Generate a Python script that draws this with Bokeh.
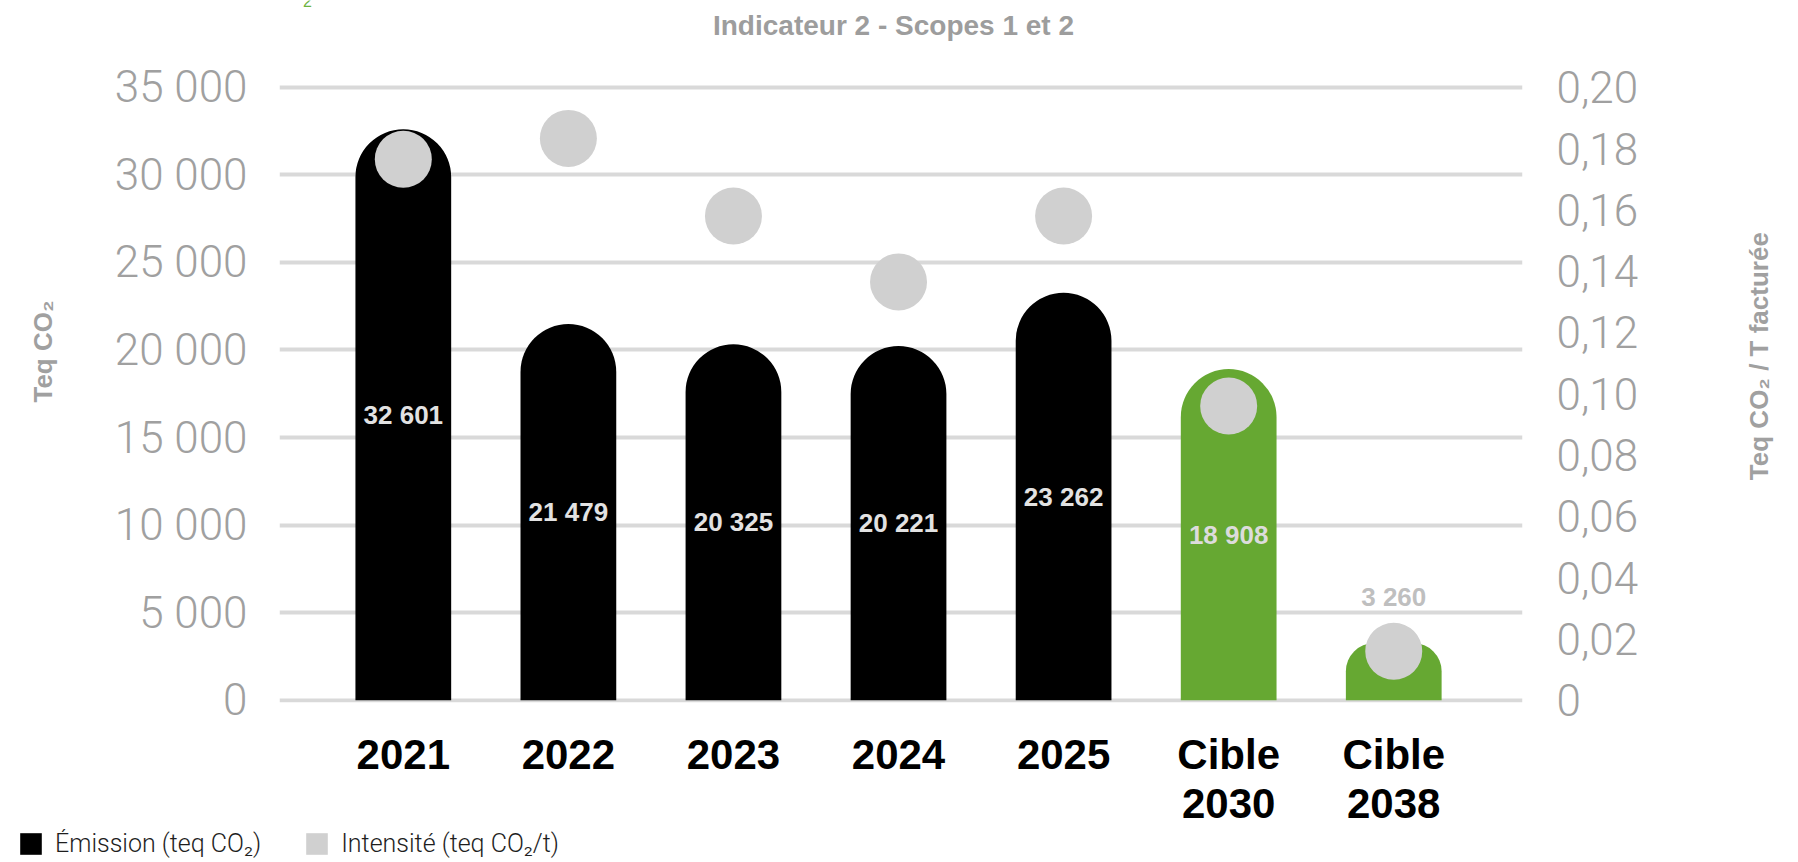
import math
from bokeh.plotting import figure
from bokeh.layouts import row
from bokeh.models import (Range1d, LinearAxis, FixedTicker, ColumnDataSource,
                          Legend, LegendItem, Label, CDSView, IndexFilter)
from bokeh.core.properties import value
from bokeh.embed import file_html
from bokeh.resources import INLINE

# ---------------- data ----------------
categories = ["2021", "2022", "2023", "2024", "2025", "Cible\n2030", "Cible\n2038"]
emissions = [32601, 21479, 20325, 20221, 23262, 18908, 3260]
emission_labels = ["32 601", "21 479", "20 325", "20 221", "23 262", "18 908", "3 260"]
intensity = [0.1765, 0.1833, 0.158, 0.1365, 0.158, 0.096, 0.016]
is_target = [False, False, False, False, False, True, True]

emission_ticks = [0, 5000, 10000, 15000, 20000, 25000, 30000, 35000]
emission_tick_labels = ["0", "5 000", "10 000", "15 000", "20 000", "25 000", "30 000", "35 000"]
intensity_ticks = [0, 0.02, 0.04, 0.06, 0.08, 0.10, 0.12, 0.14, 0.16, 0.18, 0.20]
intensity_tick_labels = ["0", "0,02", "0,04", "0,06", "0,08", "0,10", "0,12", "0,14", "0,16", "0,18", "0,20"]

title_text = "Indicateur 2 - Scopes 1 et 2"
left_title = "Teq CO\u2082"
right_title = "Teq CO\u2082 / T factur\u00e9e"
legend_emission = "\u00c9mission (teq CO\u2082)"
legend_intensity = "Intensit\u00e9 (teq CO\u2082/t)"

# ---------------- styles ----------------
BLACK = "#000000"
GREEN = "#66a832"
DOT = "#d0d0d0"
GRID = "#d9d9d9"
AXIS_GRAY = "#a0a0a0"
FONT = "Liberation Sans"
LIGHT_FONT = "Roboto Light, Liberation Sans"

x_pos = list(range(len(categories)))
bar_colors = [GREEN if t else BLACK for t in is_target]
label_colors = ["#e2e2e2" if not t else "#dcdcdc" for t in is_target]

src = ColumnDataSource(dict(
    x=x_pos, top=emissions, color=bar_colors, half=[v / 2 for v in emissions],
    lab=emission_labels, labcol=label_colors, inten=intensity,
))

W, H_MAIN, H_LEG, W_SIDE = 1798, 829, 33, 78
EMAX, IMAX = 35000, 0.20
FRAME_BOTTOM = 701.7
y_lo, y_hi = -125.7, 39952.0          # frame spans the full upper canvas
p = figure(width=W - W_SIDE, height=H_MAIN, output_backend="svg", toolbar_location=None,
           x_range=Range1d(-0.750, 6.780), y_range=Range1d(y_lo, y_hi),
           min_border_left=279, min_border_right=198,
           min_border_top=0, min_border_bottom=round(H_MAIN - FRAME_BOTTOM),
           background_fill_color="white", border_fill_color="white")
p.outline_line_color = None
p.extra_y_ranges = {"int": Range1d(y_lo * IMAX / EMAX, y_hi * IMAX / EMAX)}

# grid
p.xgrid.visible = False
p.ygrid.ticker = FixedTicker(ticks=emission_ticks)
p.ygrid.grid_line_color = GRID
p.ygrid.grid_line_width = 4

# left axis
ya = p.yaxis[0]
ya.ticker = FixedTicker(ticks=emission_ticks)
ya.major_label_overrides = {t: l for t, l in zip(emission_ticks, emission_tick_labels)}
ya.axis_line_color = None
ya.major_tick_line_color = None
ya.minor_tick_line_color = None
ya.major_tick_out = 0
ya.major_tick_in = 0
ya.major_label_standoff = 32
ya.major_label_text_font = LIGHT_FONT
ya.major_label_text_font_size = "44px"
ya.major_label_text_color = AXIS_GRAY
ya.axis_label = left_title
ya.axis_label_standoff = 54
ya.axis_label_text_font = FONT
ya.axis_label_text_font_style = "bold"
ya.axis_label_text_font_size = "26px"
ya.axis_label_text_color = AXIS_GRAY

# right axis
ra = LinearAxis(y_range_name="int", ticker=FixedTicker(ticks=intensity_ticks))
ra.major_label_overrides = {t: l for t, l in zip(intensity_ticks, intensity_tick_labels)}
ra.axis_line_color = None
ra.major_tick_line_color = None
ra.minor_tick_line_color = None
ra.major_tick_out = 0
ra.major_tick_in = 0
ra.major_label_standoff = 34
ra.major_label_text_font = LIGHT_FONT
ra.major_label_text_font_size = "44px"
ra.major_label_text_color = AXIS_GRAY
p.add_layout(ra, "right")

# x axis
xa = p.xaxis[0]
xa.ticker = FixedTicker(ticks=x_pos)
xa.major_label_overrides = {i: c for i, c in zip(x_pos, categories)}
xa.axis_line_color = None
xa.major_tick_line_color = None
xa.minor_tick_line_color = None
xa.major_tick_out = 0
xa.major_tick_in = 0
xa.major_label_standoff = 28
xa.major_label_text_font = FONT
xa.major_label_text_font_style = "bold"
xa.major_label_text_font_size = "42px"
xa.major_label_text_line_height = 1.05
xa.major_label_text_color = "#000000"

# bars (rounded tops)
big = CDSView(filter=IndexFilter([i for i, v in enumerate(emissions) if v > 5000]))
small = CDSView(filter=IndexFilter([i for i, v in enumerate(emissions) if v <= 5000]))
p.vbar(x="x", top="top", bottom=0, width=0.58, source=src, view=big,
       fill_color="color", line_color=None, border_radius=(48, 48, 0, 0))
p.vbar(x="x", top="top", bottom=0, width=0.58, source=src, view=small,
       fill_color="color", line_color=None, border_radius=(28, 28, 0, 0))

# intensity dots
p.scatter(x="x", y="inten", source=src, y_range_name="int", size=57,
          fill_color=DOT, line_color=None)

# value labels
p.text(x="x", y="half", text="lab", source=src, view=big,
       text_align="center", text_baseline="middle", text_color="labcol",
       text_font=value(FONT), text_font_style="bold", text_font_size="26px")
p.text(x="x", y="top", text="lab", source=src, view=small, y_offset=-46,
       text_align="center", text_baseline="middle", text_color="#bfbfbf",
       text_font=value(FONT), text_font_style="bold", text_font_size="26px")

# chart title (inside the frame, top of canvas)
p.add_layout(Label(x=614, y=FRAME_BOTTOM - 25, x_units="screen", y_units="screen",
                   text=title_text, text_align="center", text_baseline="middle",
                   text_font=FONT, text_font_style="bold", text_font_size="28px",
                   text_color="#9d9d9d"))
# cut-off green subscript at the very top edge
p.add_layout(Label(x=28, y=FRAME_BOTTOM, x_units="screen", y_units="screen", text="2",
                   text_align="center", text_baseline="alphabetic", text_font=FONT,
                   text_font_size="16px", text_color="#6db33f"))

# ---------------- right-hand title strip ----------------
r = figure(width=W_SIDE, height=H_MAIN, output_backend="svg", toolbar_location=None,
           x_range=Range1d(0, W_SIDE), y_range=Range1d(0, FRAME_BOTTOM),
           x_axis_type=None, y_axis_type=None,
           min_border_left=0, min_border_right=0, min_border_top=0,
           min_border_bottom=round(H_MAIN - FRAME_BOTTOM),
           background_fill_color="white", border_fill_color="white")
r.outline_line_color = None
r.xgrid.visible = False
r.ygrid.visible = False
r.add_layout(Label(x=38, y=FRAME_BOTTOM - 355.5, text=right_title, angle=math.pi / 2,
                   text_align="center", text_baseline="middle", text_font=FONT,
                   text_font_style="bold", text_font_size="26px", text_color=AXIS_GRAY))

# ---------------- legend strip ----------------
q = figure(width=W, height=H_LEG, output_backend="svg", toolbar_location=None,
           x_range=Range1d(-20, -19), y_range=Range1d(-20, -19),
           x_axis_type=None, y_axis_type=None,
           min_border_left=0, min_border_right=0, min_border_top=0, min_border_bottom=0,
           background_fill_color="white", border_fill_color="white")
q.outline_line_color = None
q.xgrid.visible = False
q.ygrid.visible = False
sw_e = q.vbar(x="x", top="top", width=0.5, source=src, fill_color=BLACK, line_color=None)
sw_i = q.vbar(x="x", top="inten", width=0.5, source=src, fill_color=DOT, line_color=None)
legend = Legend(items=[LegendItem(label=legend_emission, renderers=[sw_e]),
                       LegendItem(label=legend_intensity, renderers=[sw_i])],
                orientation="horizontal", location=(17, 4),
                padding=0, margin=0, spacing=42, label_standoff=11,
                glyph_width=27, glyph_height=27,
                border_line_color=None, background_fill_alpha=0,
                label_text_font=LIGHT_FONT, label_text_font_size="25px",
                label_text_color="#1e1e1e")
q.add_layout(legend, "center")

open("out.html", "w").write(file_html([row(p, r, spacing=0), q], INLINE))
